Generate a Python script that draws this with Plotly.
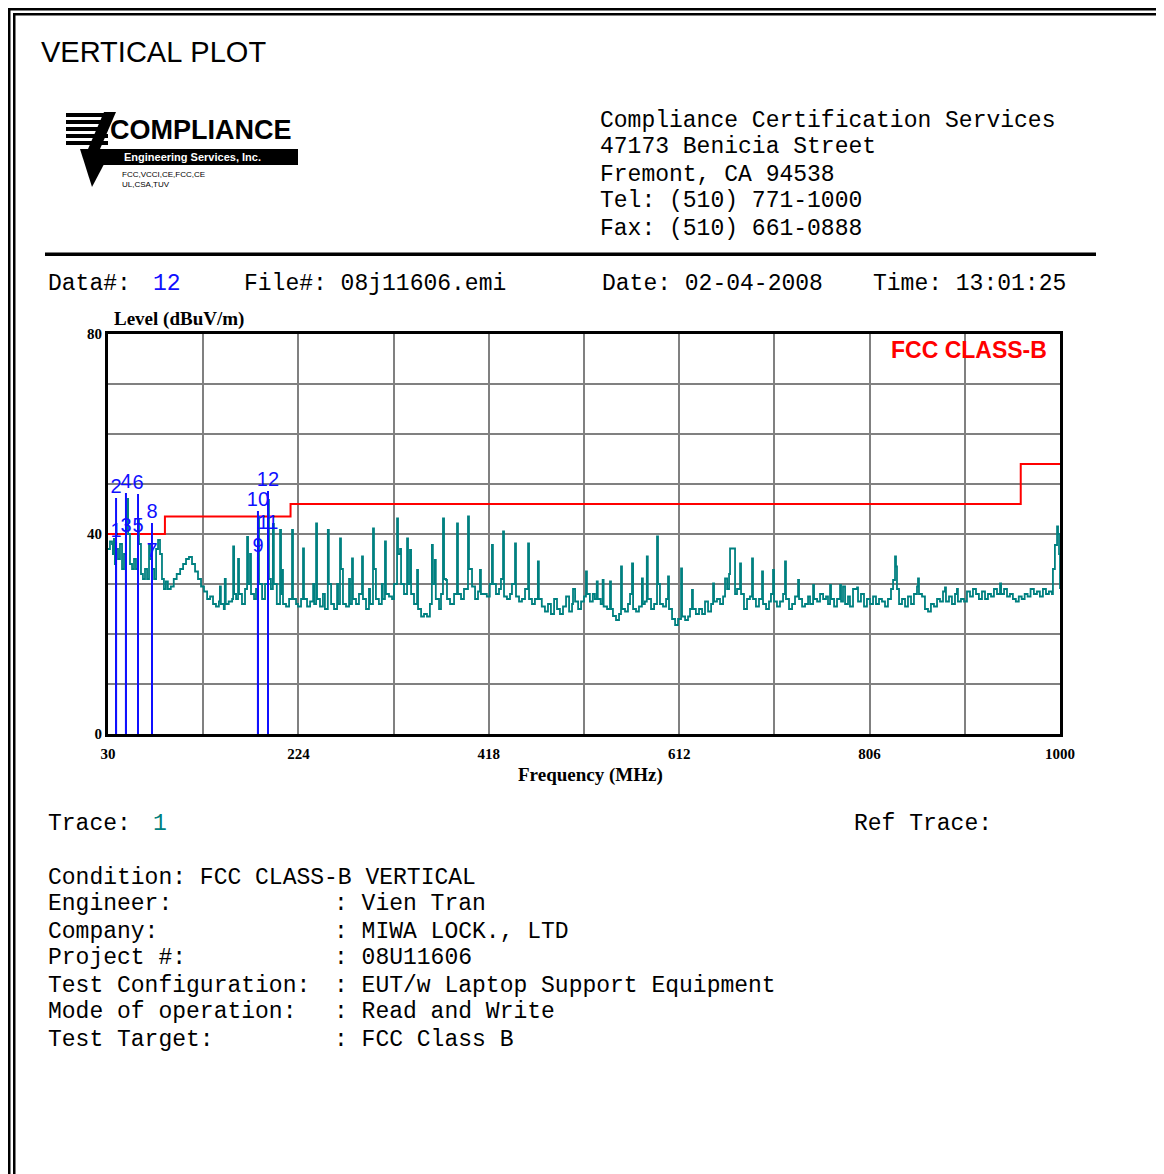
import plotly.graph_objects as go

# ---------------- data ----------------
TRACE_FREQ = [
    30, 32, 34.1, 35, 36, 37, 38.2, 40.2, 42.2, 44.3, 46.3, 48.3, 49.5, 50.5, 52.4, 54.5, 56.5, 58.5,
    60.6, 61.6, 63.6, 65.6, 67.7, 69.8, 71.8, 72.8, 74.8, 77, 79, 81, 83, 85, 87, 89, 91, 94, 97, 100,
    103.5, 106.5, 109.5, 112.5, 115.6, 118.7, 121.7, 124.8, 127.8, 131, 134, 137, 140, 143, 144, 145,
    148, 149, 150, 153, 156.5, 157.5, 158.5, 160.5, 162.5, 163.5, 166.5, 169.6, 171.7, 172.7, 174.7,
    175.7, 178.8, 180.8, 182.9, 183.9, 187, 190, 193, 194, 196, 198, 199, 202, 205.3, 206.3, 207.3,
    208.3, 211.4, 214.5, 217.5, 218.5, 221.6,
    223.6, 226.7, 228.7, 229.7, 232.8, 235.9, 239, 240, 242, 243, 246, 249, 251, 254, 255, 257.3,
    260.3, 263.4, 264.4, 266.4, 267.4, 269.4, 272.5, 275.6, 276.6, 278.6, 279.6, 282.7, 285.7, 288.8,
    289.8, 292.9, 295.9, 297, 300, 301, 303, 306, 309, 310, 312.2, 313.2, 316.3, 319.4, 321.4, 324.5,
    325.5, 327.6, 328.6, 331.6, 334.7, 335.7, 337.7, 338.8, 341.8, 344.9, 345.9, 349, 352, 355, 358,
    360, 361, 363, 364, 367.3, 369.3, 371.3, 372.4, 374.4, 375.4, 378.5, 382.6, 385.6, 386.6, 389.7,
    392.7, 396.8, 397.8, 400.9, 404, 407, 409, 410, 413, 416, 419, 421.2, 422.2, 425.3, 428.4, 430.4,
    432.5, 433.5, 436.5, 439.6, 441.6, 444.7, 445.7, 448.8, 451.8, 454.9, 458, 459, 462, 465, 468,
    469, 472, 475.2, 478.3, 481.3, 484.5, 487.5, 490.5, 493.6, 496.7, 499.8, 502.8, 503.8, 505.9,
    509, 512, 515, 517, 518, 521, 524, 526, 528, 529, 532, 534, 535, 538.5, 541.5, 542.5, 544.5,
    547.6, 550.7, 552.7, 553.7, 556.8, 559.8, 561.9, 563.9, 565, 568, 571, 574, 575, 577, 579, 580,
    583.3, 586.4, 589.4, 590.4, 592.4, 595.5, 598.6, 600.6, 601.6, 604.7, 607.8, 610.8, 613.9, 614.9,
    618, 621, 623, 625, 626, 629, 632.2, 635.3, 638.3, 641.4, 644.5, 646.5, 647.5, 650.5, 653.6,
    656.7, 658.7, 660.8, 662.8, 663.8, 667.9, 668.9, 670.9, 674, 675, 678, 681.1, 684.1, 686.2,
    687.2, 690.2, 693.3, 696.4, 697.4, 700.5, 703.5, 705.5, 707.6, 708.6, 711.6, 714.7, 717.8, 719.8,
    720.8, 723.9, 727, 730, 733.1, 734.1, 737.2, 740.2, 743.3, 745.3, 748.4, 749.4, 752.5, 755.5,
    758.6, 761.6, 763.6, 765.7, 766.7, 769.8, 772.8, 775.9, 776.9,
    778.9, 781, 784, 786, 789.1, 793.2, 794.2, 797.2, 800.3, 803.3, 806.4, 809.5, 812.5, 815.6,
    818.6, 821.7, 824.7, 827.8, 829.9, 831.9, 832.9, 833.9, 836, 839, 842.1, 845.1, 848.2, 851.2,
    854.3, 855.3, 856.3, 859.4, 862.4, 865.5, 868.5, 871.6, 874.7, 877.7, 880.8, 882.8, 883.8, 886.9,
    889.9, 893, 895, 896, 899.1, 902.2, 905.2, 908.3, 911.3, 914.4, 917.4, 920.5, 923.6, 926.6,
    929.7, 932.7, 935.8, 938.9, 940, 943, 946, 949, 952, 955, 958, 961, 964, 967, 970, 973.4, 976.5,
    979.5, 982.6, 985.7, 988.7, 991.8, 992.8, 994.8, 997, 998, 999, 1000,
]
TRACE_LEVEL = [
    37, 38.5, 38, 36, 39, 34, 37, 35, 38, 33, 36, 41, 47, 40, 34, 33, 35, 33,
    43, 38, 32, 31, 33, 31, 38, 35, 33, 31, 37, 38.8, 36, 31, 29, 30.5, 29, 29.5, 31, 32,
    33, 34, 35, 35.4, 34, 32.5, 31, 29.5, 28.5, 27, 27.5, 26, 25.5, 26.5, 29.5, 26,
    25, 31, 26, 26.5, 27, 37.5, 28, 27, 35, 28, 26, 29, 39.4, 30, 36,
    28, 27, 29, 43.4, 30, 27, 30, 46.8, 31, 29, 42, 30, 26, 40.8, 28, 32.8,
    26, 25.5, 27, 40.8, 27, 26,
    25.5, 27, 37.1, 27, 25.5, 26.5, 30, 26, 42.1, 27, 25.5, 28, 25, 40.8, 30, 26,
    25, 30, 26, 39.1, 33, 26, 25.5, 31, 26, 35.1, 27, 26, 28, 35.5,
    27, 25, 29, 26, 41.1, 33, 27, 26, 30, 27, 38.5, 28, 27.5, 27, 30, 43.1,
    36, 37, 30, 28, 39.1, 30, 36.8, 28, 26, 32.8, 25, 23.5, 24, 23.5, 26,
    37.8, 30, 34.8, 27, 25, 28, 43.1, 31, 30.8, 27, 26, 28, 42.1, 28, 27,
    29, 43.5, 33, 29.5, 27, 28.5, 32.8, 28, 28, 27.5, 30, 37.8, 30, 28, 29, 31,
    40.5, 27.5, 27, 28, 30, 38.1, 27.5, 26.5, 27, 29, 38.1, 27, 26, 27, 34.5,
    27, 25.5, 24.5, 26, 24, 27, 25, 24, 25.5, 27.5, 24.5, 26, 29, 26.5,
    25, 26.5, 27.5, 32.5, 28, 26.5, 28, 27, 30.5, 27, 26, 30.8, 25.5, 25, 30.5, 25, 23.6,
    22.8, 24, 33.5, 25, 24.5, 26, 28, 34.1, 25, 24.5, 25.5, 31.1, 26, 26.5, 35.5, 27,
    25, 26, 39.5, 30, 26, 25.5, 27, 31.5, 25, 23, 21.8, 23, 33.1, 23.5,
    22.8, 23.5, 25, 28.8, 25, 24, 25, 24, 26.5, 24.5, 26, 30.1, 26.5, 27, 26,
    27.5, 31.1, 29, 32, 37.1, 37.1, 28, 29, 34.1, 28, 25, 27, 27.5, 35.1,
    27, 25.5, 27, 32.5, 26, 25, 26.5, 28, 32.8, 26.5, 25.5, 26.5, 28, 34.5,
    27, 25, 26, 27.5, 30.8, 27, 25.5, 26, 27.5, 26, 29.8, 27, 26.5, 28,
    27, 27.5, 26, 29.8, 27, 25.5, 27, 29.8, 26.5,
    29.5, 26, 27.5, 25.5, 29, 29.3, 26.5, 28, 25.5, 27, 26, 27.5, 26, 27,
    26.5, 25.5, 27, 29, 30.8, 35.5, 33.5, 29, 26, 27, 25.5, 27.5, 26, 28,
    29.5, 31.1, 28, 27.5, 25, 24.5, 26, 25.5, 27, 26.5, 28.5, 29.3, 26.5, 27.5,
    26, 28, 29, 26.5, 27, 26.5, 28.5, 27.5, 29, 28, 27, 28.5, 27, 28,
    27.5, 29, 28, 30.1, 28, 29, 27.5, 28, 27, 26.5, 27.5, 27, 28, 27.5, 29, 28, 28.5,
    27.5, 29, 28, 28.5, 28, 33, 37.8, 41.5, 40, 36, 29,
]

LIMIT_FREQ = [30, 88, 88, 216, 216, 960, 960, 1000]
LIMIT_LEVEL = [40, 40, 43.5, 43.5, 46, 46, 54, 54]

MARKER_ID = ["1", "2", "3", "4", "5", "6", "7", "8", "9", "10", "11", "12"]
MARKER_FREQ = [38.2, 38.2, 48.3, 48.3, 60.6, 60.6, 74.8, 74.8, 182.8, 182.8, 193.0, 193.0]
MARKER_LEVEL = [38.5, 47.2, 39.5, 48.2, 39.5, 48.0, 34.5, 42.2, 35.5, 44.6, 40.0, 48.6]

X_TICKS = [30, 224, 418, 612, 806, 1000]
X_MINOR = [127, 321, 515, 709, 903]
Y_TICKS = [0, 40, 80]
Y_MINOR = [10, 20, 30, 50, 60, 70]

HEADER_ADDR = ["Compliance Certification Services", "47173 Benicia Street",
               "Fremont, CA 94538", "Tel: (510) 771-1000", "Fax: (510) 661-0888"]
INFO_LABELS = ["Condition: FCC CLASS-B VERTICAL", "Engineer:", "Company:", "Project #:",
               "Test Configuration:", "Mode of operation:", "Test Target:"]
INFO_VALUES = ["", ": Vien Tran", ": MIWA LOCK., LTD", ": 08U11606",
               ": EUT/w Laptop Support Equipment", ": Read and Write", ": FCC Class B"]

# ---------------- layout geometry (reference pixels) ----------------
OFF = 8                      # page body margin of the browser
W, H = 1164 - OFF, 1174 - OFF
PL, PR, PT, PB = 108, 1060, 334, 734


def pxx(x):
    return (x - PL) / (PR - PL)


def pxy(y):
    return (PB - y) / (PB - PT)


def nb(s):
    return s.replace(" ", "\u00a0")


MONO = "Liberation Mono"
MSIZE = 23
TEAL = "#008080"
BLUE = "#1010ff"

fig = go.Figure()

fig.add_trace(go.Scatter(x=LIMIT_FREQ, y=LIMIT_LEVEL, mode="lines",
                         line=dict(color="#ff0000", width=2), hoverinfo="skip"))
fig.add_trace(go.Scatter(x=TRACE_FREQ, y=TRACE_LEVEL, mode="lines",
                         line=dict(color=TEAL, width=1.8, shape="hv"), hoverinfo="skip"))
mx, my = [], []
for f, l in zip(MARKER_FREQ, MARKER_LEVEL):
    mx += [f, f, None]
    my += [0, l, None]
fig.add_trace(go.Scatter(x=mx, y=my, mode="lines", line=dict(color=BLUE, width=2),
                         hoverinfo="skip"))
fig.add_trace(go.Scatter(x=MARKER_FREQ, y=MARKER_LEVEL, mode="text", text=MARKER_ID,
                         textposition="top center",
                         textfont=dict(family="Liberation Sans", size=20, color=BLUE),
                         hoverinfo="skip"))

TICKFONT = dict(family="Liberation Serif", size=15, color="black", weight="bold")
fig.update_layout(
    width=W, height=H, showlegend=False,
    margin=dict(l=PL - OFF, r=W - (PR - OFF), t=PT - OFF, b=H - (PB - OFF), pad=0),
    paper_bgcolor="white", plot_bgcolor="white",
    xaxis=dict(range=[30, 1000], tickvals=X_TICKS, ticktext=[str(v) for v in X_TICKS],
               showgrid=True, gridcolor="#808080", gridwidth=1.5,
               minor=dict(tickvals=X_MINOR, showgrid=True, gridcolor="#808080", gridwidth=1.5),
               showline=True, mirror=True, linecolor="black", linewidth=3,
               zeroline=False, ticks="", ticklabelstandoff=4, tickfont=TICKFONT),
    yaxis=dict(range=[0, 80], tickvals=Y_TICKS, ticktext=[str(v) for v in Y_TICKS],
               showgrid=True, gridcolor="#808080", gridwidth=1.5,
               minor=dict(tickvals=Y_MINOR, showgrid=True, gridcolor="#808080", gridwidth=1.5),
               showline=True, mirror=True, linecolor="black", linewidth=3,
               zeroline=False, ticks="", tickfont=TICKFONT),
)

ann = []


def text(x, y, s, size=MSIZE, family=MONO, color="black", xanchor="left", weight="normal"):
    ann.append(dict(x=pxx(x), y=pxy(y), xref="paper", yref="paper", text=nb(s),
                    showarrow=False, xanchor=xanchor, yanchor="middle",
                    font=dict(family=family, size=size, color=color, weight=weight)))


text(39, 52, "VERTICAL PLOT", size=29, family="Liberation Sans")

for i, s in enumerate(HEADER_ADDR):
    text(598, [121, 147, 175, 201, 229][i], s)

text(46, 284, "Data#:")
text(151, 284, "12", color=BLUE)
text(242, 284, "File#: 08j11606.emi")
text(600, 284, "Date: 02-04-2008")
text(871, 284, "Time: 13:01:25")

text(112, 319, "Level (dBuV/m)", size=19, family="Liberation Serif", weight="bold")
text(590, 775, "Frequency (MHz)", size=19, family="Liberation Serif", weight="bold",
     xanchor="center")
text(1049, 350, "FCC CLASS-B", size=23, family="Liberation Sans", color="#ff0000",
     xanchor="right", weight="bold")

text(46, 824, "Trace:")
text(151, 824, "1", color=TEAL)
text(852, 824, "Ref Trace:")
ROWS = [878, 904, 932, 958, 986, 1012, 1040]
for i in range(len(INFO_LABELS)):
    text(46, ROWS[i], INFO_LABELS[i])
    if INFO_VALUES[i]:
        text(332, ROWS[i], INFO_VALUES[i])

# logo texts
text(108, 130, "COMPLIANCE", size=27, family="Liberation Sans", weight="bold")
text(122, 157, "Engineering Services, Inc.", size=11, family="Liberation Sans",
     color="white", weight="bold")
text(120, 174, "FCC,VCCI,CE,FCC,CE", size=8, family="Liberation Sans")
text(120, 184, "UL,CSA,TUV", size=8, family="Liberation Sans")

fig.update_layout(annotations=ann)

shapes = []


def rect(x0, y0, x1, y1, color="black"):
    shapes.append(dict(type="rect", xref="paper", yref="paper", x0=pxx(x0), x1=pxx(x1),
                       y0=pxy(y0), y1=pxy(y1), fillcolor=color, line=dict(width=0),
                       layer="above"))


def poly(pts):
    path = "M " + " L ".join("{} {}".format(pxx(a), pxy(b)) for a, b in pts) + " Z"
    shapes.append(dict(type="path", xref="paper", yref="paper", layer="above", path=path,
                       fillcolor="black", line=dict(width=0)))


rect(5, 5, 1170, 10.5)
rect(13, 13, 1170, 15.5)
rect(5, 5, 10.5, 1180)
rect(13, 13, 15.5, 1180)
rect(45, 252.5, 1096, 256)
for yy in [113, 120, 127, 134, 141]:
    rect(66, yy, 108, yy + 4)
rect(94, 149, 298, 165)
poly([(80, 149), (112, 149), (92, 187)])
poly([(104, 112), (116, 112), (100, 149), (88, 149)])
fig.update_layout(shapes=shapes)

fig.write_html("out.html")
